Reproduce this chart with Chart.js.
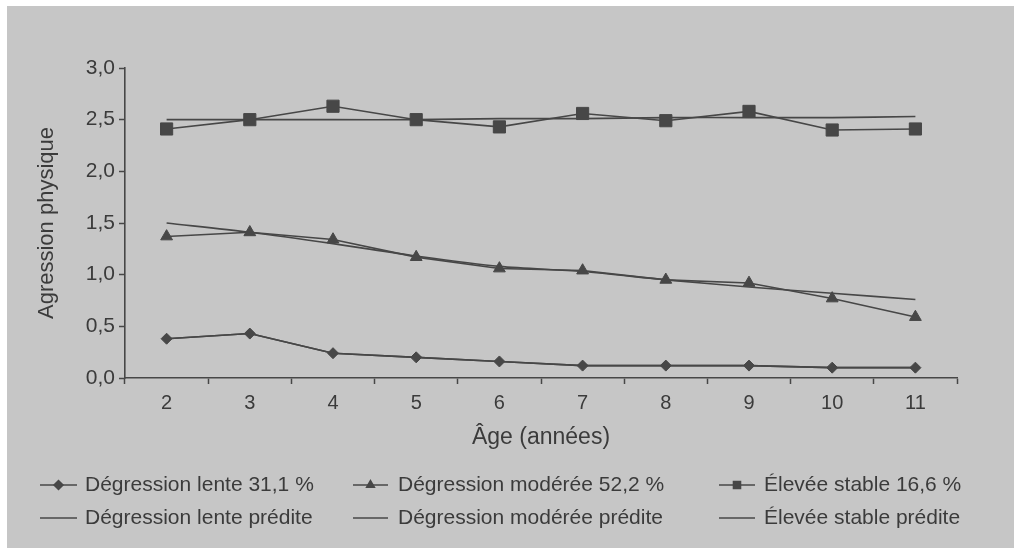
<!DOCTYPE html>
<html>
<head>
<meta charset="utf-8">
<script src="https://cdn.jsdelivr.net/npm/chart.js@4/dist/chart.umd.min.js"></script>
<style>
  html, body { margin: 0; padding: 0; background: #fff; }
  #wrap { width: 1014px; height: 548px; }
</style>
</head>
<body>
<div id="wrap"><canvas id="chart" width="1014" height="548"></canvas></div>
<script>
// Values
const ages = ['2', '3', '4', '5', '6', '7', '8', '9', '10', '11'];
const lenteObs = [0.38, 0.43, 0.24, 0.20, 0.16, 0.12, 0.12, 0.12, 0.10, 0.10];
const lentePred = [0.38, 0.43, 0.24, 0.20, 0.16, 0.12, 0.12, 0.12, 0.10, 0.10];
const modObs = [1.37, 1.41, 1.34, 1.17, 1.06, 1.04, 0.95, 0.92, 0.77, 0.59];
const modPred = [1.50, 1.41, 1.30, 1.18, 1.08, 1.03, 0.95, 0.88, 0.82, 0.76];
const stableObs = [2.41, 2.50, 2.63, 2.50, 2.43, 2.56, 2.49, 2.58, 2.40, 2.41];
const stablePred = [2.50, 2.50, 2.50, 2.50, 2.51, 2.51, 2.52, 2.52, 2.52, 2.53];
const seriesLabels = [
  'Dégression lente 31,1 %', 'Dégression modérée 52,2 %', 'Élevée stable 16,6 %',
  'Dégression lente prédite', 'Dégression modérée prédite', 'Élevée stable prédite'
];
const yTitle = 'Agression physique';
const xTitle = 'Âge (années)';

const ink = '#474747';
const textInk = '#3b3b3b';
const paper = '#c6c6c6';
const font = 'Liberation Sans, Arial, sans-serif';

// scanned page background
const paperPlugin = {
  id: 'paper',
  beforeDraw(chart) {
    const ctx = chart.ctx;
    ctx.save();
    ctx.fillStyle = paper;
    ctx.fillRect(7, 6, chart.width - 7, chart.height - 6);
    ctx.restore();
  }
};

// three column legend under the axis
const legendPlugin = {
  id: 'gridLegend',
  afterDraw(chart) {
    const ctx = chart.ctx;
    const cols = [{ a: 40, b: 77, t: 85 }, { a: 353, b: 388, t: 398 }, { a: 719, b: 755, t: 764 }];
    const rows = [485, 518];
    ctx.save();
    ctx.font = '21px ' + font;
    ctx.textBaseline = 'middle';
    ctx.textAlign = 'left';
    chart.data.datasets.forEach((ds, i) => {
      const c = cols[i % 3];
      const y = rows[Math.floor(i / 3)];
      ctx.strokeStyle = ink;
      ctx.lineWidth = 1.5;
      ctx.beginPath();
      ctx.moveTo(c.a, y);
      ctx.lineTo(c.b, y);
      ctx.stroke();
      if (ds.pointRadius > 0 && Chart.helpers && Chart.helpers.drawPoint) {
        ctx.fillStyle = ink;
        Chart.helpers.drawPoint(ctx, {
          pointStyle: ds.pointStyle,
          radius: ds.pointStyle === 'rect' ? 5 : 4.5,
          rotation: 0,
          borderWidth: 1
        }, (c.a + c.b) / 2, y);
      }
      ctx.fillStyle = textInk;
      ctx.fillText(ds.label, c.t, y);
    });
    ctx.restore();
  }
};

function series(label, data, style, radius) {
  return {
    label: label,
    data: data,
    borderColor: ink,
    backgroundColor: ink,
    borderWidth: 1.6,
    pointStyle: style,
    pointRadius: radius,
    pointHoverRadius: radius,
    pointBackgroundColor: ink,
    pointBorderColor: ink,
    pointBorderWidth: 1,
    tension: 0,
    fill: false
  };
}

const datasets = [
  series(seriesLabels[0], lenteObs, 'rectRot', 5.5),
  series(seriesLabels[1], modObs, 'triangle', 6.8),
  series(seriesLabels[2], stableObs, 'rect', 8.6),
  series(seriesLabels[3], lentePred, false, 0),
  series(seriesLabels[4], modPred, false, 0),
  series(seriesLabels[5], stablePred, false, 0)
];
datasets[4].tension = 0.3;
datasets[5].tension = 0.3;

const ctx = document.getElementById('chart').getContext('2d');
new Chart(ctx, {
  type: 'line',
  data: { labels: ages, datasets: datasets },
  options: {
    responsive: false,
    animation: false,
    devicePixelRatio: 1,
    layout: { padding: { left: 0, right: 57, top: 68, bottom: 0 } },
    plugins: {
      legend: { display: false },
      tooltip: { enabled: false }
    },
    scales: {
      x: {
        type: 'category',
        offset: true,
        afterFit(scale) { scale.height = 170; },
        grid: {
          offset: true,
          drawOnChartArea: false,
          drawTicks: true,
          tickLength: 6,
          tickWidth: 1.5,
          tickColor: ink
        },
        border: { display: true, color: ink, width: 1.6 },
        ticks: {
          color: textInk,
          font: { family: font, size: 20 },
          padding: 7,
          maxRotation: 0
        },
        title: {
          display: true,
          text: xTitle,
          color: textInk,
          font: { family: font, size: 23 },
          padding: { top: 0, bottom: 97 }
        }
      },
      y: {
        min: 0,
        max: 3,
        afterFit(scale) { scale.width = 125; },
        grid: {
          drawOnChartArea: false,
          drawTicks: true,
          tickLength: 6,
          tickWidth: 1.5,
          tickColor: ink
        },
        border: { display: true, color: ink, width: 1.6 },
        ticks: {
          stepSize: 0.5,
          color: textInk,
          font: { family: font, size: 21 },
          padding: 4,
          callback: v => v.toFixed(1).replace('.', ',')
        },
        title: {
          display: true,
          text: yTitle,
          color: textInk,
          font: { family: font, size: 22 },
          padding: { top: 34, bottom: 0 }
        }
      }
    }
  },
  plugins: [paperPlugin, legendPlugin]
});
</script>
</body>
</html>
